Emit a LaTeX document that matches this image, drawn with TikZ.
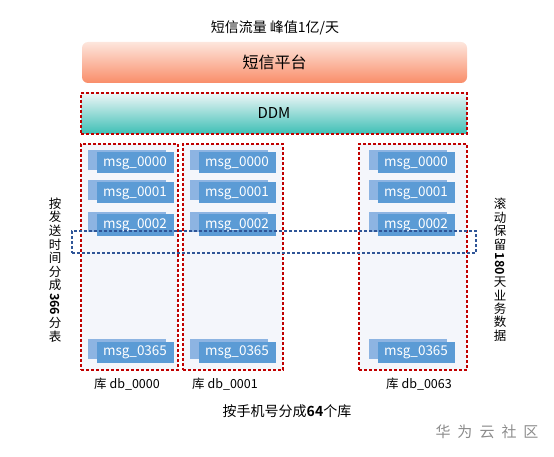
\documentclass[tikz,border=0pt]{standalone}
\usepackage{fontspec}
\setmainfont{Noto Sans CJK SC}[BoldFont={Noto Sans CJK SC Bold}]
\usepackage{graphicx}
\usepackage{tikz}
\usetikzlibrary{positioning}
\usepackage{xcolor}
\definecolor{dashred}{HTML}{C00000}
\definecolor{dashblue}{HTML}{2F5597}
\definecolor{msgblue}{HTML}{5B9BD5}
\definecolor{msgback}{HTML}{8DB4E2}
\definecolor{colfill}{HTML}{F4F6FB}
\definecolor{peachtop}{HTML}{FDE6DD}
\definecolor{peachbot}{HTML}{F98D69}
\definecolor{tealtop}{HTML}{EEF6F7}
\definecolor{tealbot}{HTML}{3DBFB5}
\newcommand{\vtextfont}{\fontsize{12.5}{0}\selectfont\lineskip=2.2pt\relax}

\begin{document}
\begin{tikzpicture}[
		x=1pt, y=-1pt,
		dbcol/.style={draw=dashred, fill=colfill, line width=1.2pt, dash pattern=on 3pt off 2pt, minimum width=#1, minimum height=226pt, inner sep=0pt},
		msgbox/.style={fill=msgblue, text=white, minimum width=77pt, minimum height=21pt, inner sep=0pt, font=\fontsize{13.5}{15}\selectfont},
		msgshadow/.style={fill=msgback, minimum width=78pt, minimum height=20pt, inner sep=0pt},
		dblabel/.style={font=\fontsize{12.5}{15}\selectfont},
		vtext/.style={align=center, font=\vtextfont, inner sep=0pt}
		]
	
		\useasboundingbox (0,0) rectangle (554,457);
	
		% --- en haut ---
		\node (title) at (275,28) {\fontsize{14}{16}\selectfont 短信流量 峰值1亿/天};
		\node[rounded corners=6pt, top color=peachtop, bottom color=peachbot, minimum width=385pt, minimum height=41pt, font=\fontsize{16}{18}\selectfont] (plat) at (274.5,62.5) {短信平台};
		\node[top color=tealtop, bottom color=tealbot, draw=dashred, line width=1.2pt, dash pattern=on 3pt off 2pt, minimum width=386pt, minimum height=41pt, font=\fontsize{15}{17}\selectfont] (ddm) at (274,113.5) {DDM};
	
		% --- les bases ---
		\node[dbcol=97pt] (db0) at (129.5,257) {};
		\node[dbcol=100pt] (db1) at (233,257) {};
		\node[dbcol=108pt] (db63) at (413,257) {};
	
		% --- les tables ---
		\foreach \cx/\cn in {135/a, 237/b, 416/c} {
			\foreach \cy/\tn in {163/0000, 193/0001, 225/0002, 352/0365} {
				\node[msgshadow] (sh\cn\tn) at (\cx-8,\cy-3) {};
				\node[msgbox] (t\cn\tn) at (\cx,\cy) {msg\_\tn};
			}
		}
	
		% --- fenetre 180 jours ---
		\node[draw=dashblue, line width=1.2pt, dash pattern=on 3pt off 2pt, minimum width=404pt, minimum height=22pt, inner sep=0pt] (win) at (274,242) {};
	
		% --- textes ---
		\node[dblabel] (l0) at (127,384) {库 db\_0000};
		\node[dblabel] (l1) at (225,384) {库 db\_0001};
		\node[dblabel] (l63) at (419,384) {库 db\_0063};
		\node[font=\fontsize{14}{16}\selectfont] (split) at (287,411) {按手机号分成\textbf{64}个库};
		\node[text=gray!90, font=\fontsize{15}{17}\selectfont] (logo) at (487,432) {华\hspace{7pt}为\hspace{7pt}云\hspace{7pt}社\hspace{7pt}区};
	
		\node[vtext] (left) at (55,270) {按\\发\\送\\时\\间\\分\\成\\\rotatebox{-90}{\textbf{366}}\\分\\表};
		\node[vtext] (right) at (500,270) {滚\\动\\保\\留\\\rotatebox{-90}{\textbf{180}}\\天\\业\\务\\数\\据};
	
	\end{tikzpicture}
\end{document}
